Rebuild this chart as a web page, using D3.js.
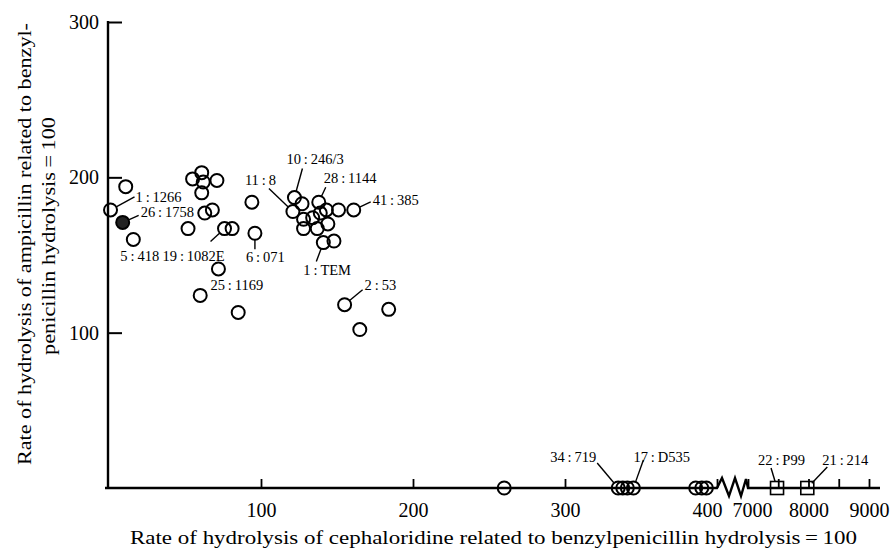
<!DOCTYPE html>
<html>
<head>
<meta charset="utf-8">
<script src="https://cdn.jsdelivr.net/npm/d3@7"></script>
<style>
  body { margin: 0; background: #fff; }
  svg text { font-family: "Liberation Serif", "Times New Roman", Times, "DejaVu Serif", serif !important; }
</style>
</head>
<body>
<svg id="chart" width="893" height="549"></svg>
<script>
// Rate of hydrolysis of cephaloridine (x) and ampicillin (y), benzylpenicillin = 100
const cephaloridine = [
  1, 11, 9, 16, 55, 61, 62, 71, 61, 63, 68, 52, 76, 81, 72, 60, 85, 94, 96,
  122, 127, 121, 138, 128, 134, 139, 143, 151, 161, 128, 137, 144, 141, 148,
  155, 184, 165,
  260, 335, 338, 341, 345, 386, 390, 393,
  7480, 7980
];
const ampicillin = [
  179, 194, 171, 160, 199, 203, 197, 198, 190, 177, 179, 167, 167, 167, 141, 124, 113, 184, 164,
  187, 183, 178, 184, 173, 174, 177, 179, 179, 179, 167, 167, 170, 158, 159,
  118, 115, 102,
  0, 0, 0, 0, 0, 0, 0, 0,
  0, 0
];
const markers = [
  "circle", "circle", "filled", "circle", "circle", "circle", "circle", "circle", "circle", "circle",
  "circle", "circle", "circle", "circle", "circle", "circle", "circle", "circle", "circle",
  "circle", "circle", "circle", "circle", "circle", "circle", "circle", "circle", "circle", "circle",
  "circle", "circle", "circle", "circle", "circle",
  "circle", "circle", "circle",
  "circle", "circle", "circle", "circle", "circle", "circle", "circle", "circle",
  "square", "square"
];
const strains = [
  "1:1266", "", "26:1758", "5:418", "", "", "", "", "", "", "", "", "19:1082E", "", "25:1169", "", "", "", "6:071",
  "10:246/3", "", "11:8", "28:1144", "", "", "", "", "", "41:385", "", "", "", "1:TEM", "",
  "2:53", "", "",
  "", "34:719", "", "", "17:D535", "", "", "",
  "22:P99", "21:214"
];

const xTicks = [100, 200, 300, 400, 7000, 7500, 8000, 8500, 9000];
const xTickLabels = ["100", "200", "300", "400", "7000", "", "8000", "", "9000"];
const yTicks = [100, 200, 300];

// label placement (pixels relative to the point): leader end [lx, ly], text [tx, ty]
const labelLayout = {
  "1:1266":   { line: [24, -13], text: [25, -8] },
  "26:1758":  { line: [16, -7],  text: [18, -5] },
  "5:418":    { line: null,      text: [-13, 22] },
  "19:1082E": { line: [-14, 13], text: [-62, 32] },
  "6:071":    { line: [0, 16],   text: [-9, 29] },
  "25:1169":  { line: null,      text: [-8, 21] },
  "11:8":     { line: [-24, -23], text: [-48, -27] },
  "10:246/3": { line: [8, -29],  text: [-8, -34] },
  "28:1144":  { line: [7, -15],  text: [5, -19] },
  "41:385":   { line: [17, -8],  text: [19, -5] },
  "1:TEM":    { line: [-7, 19],  text: [-20, 32] },
  "2:53":     { line: [18, -15], text: [20, -15] },
  "34:719":   { line: [-21, -25], text: [-68, -26] },
  "17:D535":  { line: [10, -28], text: [0, -26] },
  "22:P99":   { line: [-6, -20], text: [-19, -23] },
  "21:214":   { line: [20, -21], text: [15, -23] }
};

const svg = d3.select("#chart");
const r = 6.5;

// broken x scale: 0-400 then 7000-9000
const x = d3.scaleLinear()
  .domain([0, 400, 7000, 9000])
  .range([109, 717, 748, 869]);
const y = d3.scaleLinear()
  .domain([0, 300])
  .range([488, 22]);

// axis lines
const axisY = y(0);
svg.append("path")
  .attr("fill", "none")
  .attr("stroke", "#000")
  .attr("stroke-width", 2.4)
  .attr("d", `M105,${axisY}H717 L722,${axisY - 10} L729,${axisY + 8} L735,${axisY - 10} L741,${axisY + 8} L746,${axisY - 9} L748,${axisY} H880`);

svg.append("line")
  .attr("x1", 108).attr("x2", 108)
  .attr("y1", y(300) - 1).attr("y2", axisY)
  .attr("stroke", "#000")
  .attr("stroke-width", 2.4);

// x ticks (pointing up)
const gx = svg.append("g")
  .attr("transform", `translate(0,${axisY})`)
  .call(d3.axisBottom(x)
    .tickValues(xTicks)
    .tickSize(-9)
    .tickPadding(15)
    .tickFormat((d, i) => xTickLabels[i]));
gx.select(".domain").remove();
gx.selectAll(".tick line").attr("stroke-width", 1.8);
gx.selectAll(".tick text")
  .attr("font-size", 20)
  .attr("fill", "#000")
  .attr("dx", (d) => (d === 400 ? -10 : d === 7000 ? 4 : 0));

// y ticks (pointing right)
const gy = svg.append("g")
  .attr("transform", "translate(108,0)")
  .call(d3.axisLeft(y)
    .tickValues(yTicks)
    .tickSize(-14)
    .tickPadding(9));
gy.select(".domain").remove();
gy.selectAll(".tick line").attr("stroke-width", 2);
gy.selectAll(".tick text")
  .attr("font-size", 20)
  .attr("fill", "#000");

// axis titles
svg.append("text")
  .attr("x", 130)
  .attr("y", 544)
  .attr("font-size", 19)
  .attr("textLength", 727)
  .attr("lengthAdjust", "spacingAndGlyphs")
  .text("Rate of hydrolysis of cephaloridine related to benzylpenicillin hydrolysis\u2009=\u2009100");

svg.append("text")
  .attr("transform", "translate(31,244) rotate(-90)")
  .attr("text-anchor", "middle")
  .attr("font-size", 19)
  .attr("textLength", 442)
  .attr("lengthAdjust", "spacingAndGlyphs")
  .text("Rate of hydrolysis of ampicillin related to benzyl-");

svg.append("text")
  .attr("transform", "translate(55,236) rotate(-90)")
  .attr("text-anchor", "middle")
  .attr("font-size", 19)
  .attr("textLength", 238)
  .attr("lengthAdjust", "spacingAndGlyphs")
  .text("penicillin hydrolysis\u2009=\u2009100");

const points = cephaloridine.map((v, i) => ({
  x: v, y: ampicillin[i], marker: markers[i], label: strains[i]
}));

// leader lines
const labelled = points.filter((d) => d.label && labelLayout[d.label].line);
svg.append("g")
  .selectAll("line")
  .data(labelled)
  .join("line")
  .attr("x1", (d) => {
    const [lx, ly] = labelLayout[d.label].line;
    return x(d.x) + (lx / Math.hypot(lx, ly)) * r;
  })
  .attr("y1", (d) => {
    const [lx, ly] = labelLayout[d.label].line;
    return y(d.y) + (ly / Math.hypot(lx, ly)) * r;
  })
  .attr("x2", (d) => x(d.x) + labelLayout[d.label].line[0])
  .attr("y2", (d) => y(d.y) + labelLayout[d.label].line[1])
  .attr("stroke", "#000")
  .attr("stroke-width", 1.4);

// circles
svg.append("g")
  .selectAll("circle")
  .data(points.filter((d) => d.marker !== "square"))
  .join("circle")
  .attr("cx", (d) => x(d.x))
  .attr("cy", (d) => y(d.y))
  .attr("r", r)
  .attr("fill", (d) => (d.marker === "filled" ? "#222" : "none"))
  .attr("stroke", "#000")
  .attr("stroke-width", 2);

// squares
svg.append("g")
  .selectAll("rect")
  .data(points.filter((d) => d.marker === "square"))
  .join("rect")
  .attr("x", (d) => x(d.x) - 6.5)
  .attr("y", (d) => y(d.y) - 6.5)
  .attr("width", 13)
  .attr("height", 13)
  .attr("fill", "none")
  .attr("stroke", "#000")
  .attr("stroke-width", 1.6);

// labels
svg.append("g")
  .selectAll("text")
  .data(points.filter((d) => d.label))
  .join("text")
  .attr("x", (d) => x(d.x) + labelLayout[d.label].text[0])
  .attr("y", (d) => y(d.y) + labelLayout[d.label].text[1])
  .attr("font-size", 14.5)
  .attr("fill", "#000")
  .text((d) => d.label.replace(":", "\u2009:\u2009"));
</script>
</body>
</html>
